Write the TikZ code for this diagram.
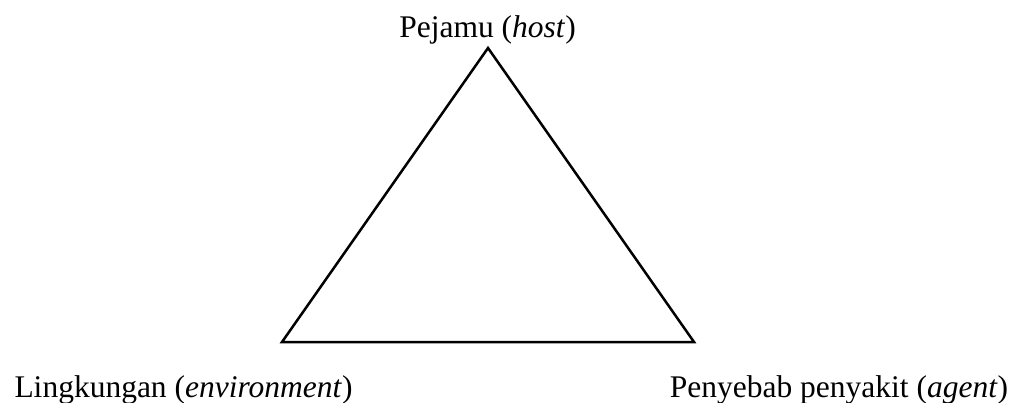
\documentclass[tikz,border=0pt]{standalone}
\usepackage{fontspec}
\setmainfont{Liberation Serif}
\begin{document}
\begin{tikzpicture}[x=1pt,y=-1pt,
  lbl/.style={anchor=base,inner sep=0pt,font=\fontsize{31.5}{36}\selectfont},
  edge/.style={line width=2.5pt,line join=miter}]
\useasboundingbox (0,0) rectangle (1019,403);
\coordinate (h) at (488,48);
\coordinate (e) at (282,342);
\coordinate (a) at (694,342);
\draw[edge] (h) -- (e) -- (a) -- cycle;
\node[lbl] (th) at (487.5,38) {Pejamu (\textit{host})};
\node[lbl] (te) at (183.5,397) {Lingkungan (\textit{environment})};
\node[lbl] (ta) at (839,397) {Penyebab penyakit (\textit{agent})};
\end{tikzpicture}
\end{document}
